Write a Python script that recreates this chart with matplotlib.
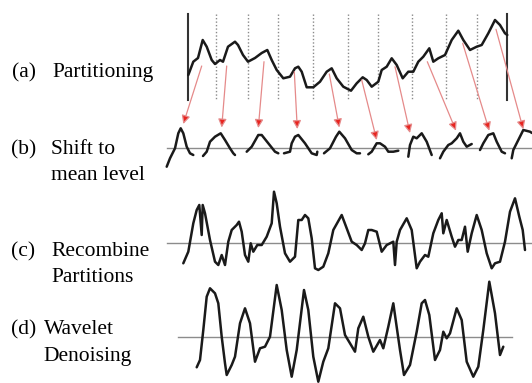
### PARTITION / SHIFT / RECOMBINE / DENOISE SCHEMATIC ###

import matplotlib.pyplot as plt

# All values (picture units, y grows downward)

# (a) raw series and its partition boundaries
a_x = [188.3, 193.3, 198, 202.7, 206.7, 211.7, 215, 220, 223, 228,
       235, 238, 243, 248, 255, 261.7, 267.3, 271.7, 276.7, 283.3,
       290, 295, 298.3, 301.7, 306.7, 313.3, 320, 326.7, 331.7, 336.7,
       343.3, 351, 356.7, 362.7, 366.7, 371.7, 378.3, 381.7, 386.7, 391.7,
       396.7, 402.7, 408.3, 413.3, 418.3, 423.3, 429.3, 433.3, 438.3, 445,
       451.7, 458.3, 463.3, 470, 476.7, 481.7, 488.3, 495, 500, 505, 507.3]
a_y = [75, 61.7, 58, 40, 46.7, 60, 64, 60, 61.7, 46.7,
       41.7, 45, 55, 61.7, 58, 53, 50, 60, 70, 78.3,
       76.7, 68.3, 66.7, 71.7, 87.3, 87.3, 81.7, 71.7, 68.3, 78.3,
       86.7, 90.7, 83.3, 77.3, 80, 86.7, 81.7, 70, 66.7, 58.3,
       65, 78.3, 71.7, 71.7, 61.7, 56.7, 48.3, 61.7, 58.3, 55,
       40, 30.7, 40, 50, 46.7, 45, 33.3, 20, 25, 33.3, 35]
edges = [188, 507]
cuts = [216, 248, 278, 313, 348, 378, 412, 446, 477]
a_top, a_bottom = 14, 100

# arrows from each partition to its shifted copy
arrow_from = [(201.7, 66), (226.7, 66), (264, 61.7), (294.3, 71.7), (329.3, 74),
              (361.7, 80), (395, 66.7), (427.3, 61.7), (462.7, 43.3), (496, 29.3)]
arrow_to = [(183.3, 124), (221.7, 127.5), (258.3, 128), (297.3, 129), (339.3, 127.5),
            (376.7, 140), (410, 133), (456, 130.7), (489.3, 130.7), (523.3, 129.3)]

# (b) partitions shifted to the mean level
b_level = 148.3
b_segments_x = [
    [166.7, 170, 175, 178.3, 180.7, 183.3, 186.7, 190, 193.3],
    [203, 206.7, 210, 215, 220.7, 225, 230, 233.3, 235],
    [246.7, 251.7, 258.3, 261.7, 268.3, 275, 278.3],
    [284, 290, 291.7, 295, 298.3, 305, 311.7, 316.7, 317.3],
    [324, 330, 336, 339.3, 345, 351.7, 356.7, 360],
    [368.3, 371.7, 376.7, 380, 385, 388.3, 393.3, 398.3],
    [408.3, 410, 413.3, 416.7, 421.7, 426.7, 431.7],
    [440, 443.3, 448.3, 451.7, 456.7, 460, 463.3, 466.7, 471.7],
    [480, 483.3, 488.3, 493.3, 496.7, 501.7, 505],
    [511.7, 513.3, 518.3, 523.3, 530, 532],
]
b_segments_y = [
    [166.7, 158.3, 148.3, 133.3, 128.3, 133.3, 146.7, 153.3, 155],
    [156, 151.7, 141.7, 136.7, 133.3, 140, 148.3, 153.3, 155],
    [151.7, 146.7, 135, 135, 143.3, 151.7, 153.3],
    [153.3, 151.7, 143.3, 136.7, 135, 143.3, 153.3, 155, 151.7],
    [153.3, 148.3, 136.7, 131.7, 138.3, 150, 153.3, 153.3],
    [154.3, 151.7, 143.3, 143.3, 146.7, 151.7, 151.7, 150.7],
    [156.7, 145, 136.7, 138.3, 133.3, 141.7, 155],
    [158.3, 151.7, 145, 143.3, 138.3, 133.3, 141.7, 146.7, 144],
    [150, 143.3, 135, 133.3, 141.7, 151.7, 153.3],
    [158.3, 150, 140, 130, 131.7, 133],
]

# (c) recombined partitions
c_level = 242.7
c_x = [183.3, 188.3, 193.3, 196.7, 199.3, 201.7, 202.7, 205, 210, 215,
       218.3, 221.7, 225, 228.3, 231.7, 236.7, 239, 241.7, 245, 248.3,
       250.7, 253.3, 257.3, 261.7, 266.7, 271.7, 274, 276.7, 280, 285,
       290, 295, 298.3, 301.7, 305, 308.3, 311.7, 315, 318.3, 323.3,
       328.3, 333.3, 341.7, 346.7, 351.7, 356.7, 361.7, 365, 368.3, 371.7,
       376.7, 381.7, 386.7, 393.3, 395, 396.7, 400, 406.7, 411.7, 416.7,
       420, 425, 428.3, 433.3, 438.3, 441.7, 443.3, 446.7, 451.7, 455,
       458.3, 461.7, 465, 467.7, 471.7, 476.7, 481.7, 486.7, 491.7, 495,
       500, 505, 510, 515, 519.3, 522.7, 525]
c_y = [263.3, 251.7, 223.3, 210, 205, 235, 205, 213.3, 240, 261.7,
       265, 255, 265, 241.7, 230, 225, 221.7, 231.7, 255, 261.7,
       243.3, 251.7, 245, 245, 236.7, 223.3, 191.7, 203.3, 226.7, 253.3,
       261.7, 256.7, 220, 220, 215, 218.3, 238.3, 268.3, 270, 266.7,
       253.3, 230, 215, 228.3, 241.7, 245, 250, 243.3, 230, 230,
       231.7, 251.7, 245, 241.7, 265, 241.7, 230, 218.3, 230, 268.3,
       261.7, 255, 256.7, 233.3, 220, 213.3, 233.3, 220, 236.7, 246.7,
       240, 240, 226.7, 251.7, 233.3, 215, 230, 253.3, 268.3, 263.3,
       261.7, 241.7, 211.7, 198.3, 216.7, 230, 250]

# (d) wavelet denoised series
d_level = 337.3
d_x = [196.7, 200, 203.3, 206.7, 210, 215, 218.3, 221.7, 225, 226.7,
       231.7, 235, 240, 245, 250, 255, 260, 265, 270, 276.7,
       281.7, 286.7, 291.7, 296.7, 304, 308.3, 313.3, 318.3, 323.3, 328.3,
       335, 340, 345, 350, 355, 358.3, 363.3, 368.3, 373.3, 380,
       383.3, 388.3, 393.3, 400, 404, 410, 416.7, 421.7, 425, 429.3,
       435, 440, 443.3, 446.7, 450, 456.7, 461.7, 466.7, 473.3, 478.3,
       483.3, 489.3, 495, 500, 503.3]
d_y = [367.3, 360, 330, 296.7, 288.3, 293.3, 303.3, 336.7, 363.3, 375,
       365, 356.7, 323.3, 308.3, 323.3, 361.7, 348.3, 346.7, 336.7, 285,
       310, 350, 376.7, 350, 290, 310, 356.7, 381.7, 361.7, 348.3,
       303.3, 308.3, 335, 343.3, 351.7, 328.3, 316.7, 336.7, 351.7, 340,
       348.3, 326.7, 303.3, 350, 375, 365, 331.7, 303.3, 300, 315,
       360, 350, 331.7, 338.3, 333.3, 308.3, 320, 361.7, 376.7, 366.7,
       330, 281.7, 313.3, 355, 346.7]

# mean level lines start / end
level_start = {"b": 166.7, "c": 166.7, "d": 178.3}
level_end = {"b": 532, "c": 532, "d": 512}

# row labels
labels = [("(a)", 12, 73, "Partitioning", 52, 73),
          ("(b)", 11, 150, "Shift to", 51, 150),
          ("", 0, 0, "mean level", 51, 176),
          ("(c)", 11, 252, "Recombine", 51, 252),
          ("", 0, 0, "Partitions", 51, 278),
          ("(d)", 11, 330, "Wavelet", 44, 330),
          ("", 0, 0, "Denoising", 43, 356)]


fig = plt.figure(figsize=(5.32, 3.83), dpi=100)
ax = fig.add_axes([0, 0, 1, 1])
ax.set_xlim(0, 532)
ax.set_ylim(383, 0)
ax.axis("off")

line_kw = dict(color="#1a1a1a", lw=1.8, solid_joinstyle="round", solid_capstyle="round")
level_kw = dict(color="#8c8c8c", lw=1.0)

# (a)
for e in edges:
    ax.plot([e, e], [a_top, a_bottom], color="#333333", lw=1.5)
for c in cuts:
    ax.plot([c, c], [a_top, a_bottom], color="#8a8a8a", lw=1.0, ls=(0, (1.0, 1.5)))
ax.plot(a_x, a_y, **line_kw)

# (b)
ax.plot([level_start["b"], level_end["b"]], [b_level, b_level], **level_kw)
for sx, sy in zip(b_segments_x, b_segments_y):
    ax.plot(sx, sy, **line_kw)

# arrows
for p0, p1 in zip(arrow_from, arrow_to):
    ax.annotate("", xy=p1, xytext=p0,
                arrowprops=dict(arrowstyle="-|>,head_length=0.5,head_width=0.25",
                                ec="#e58a8a", fc="#e8241f", lw=0.9,
                                shrinkA=0, shrinkB=0))

# (c)
ax.plot([level_start["c"], level_end["c"]], [c_level, c_level], **level_kw)
ax.plot(c_x, c_y, **line_kw)

# (d)
ax.plot([level_start["d"], level_end["d"]], [d_level, d_level], **level_kw)
ax.plot(d_x, d_y, **line_kw)

# labels
for tag, tx, ty, name, nx, ny in labels:
    if tag:
        ax.text(tx, ty, tag, family="Liberation Serif", fontsize=15.5, va="center", ha="left")
    ax.text(nx, ny, name, family="Liberation Serif", fontsize=15.5, va="center", ha="left")

plt.savefig("out.png", dpi=100)
